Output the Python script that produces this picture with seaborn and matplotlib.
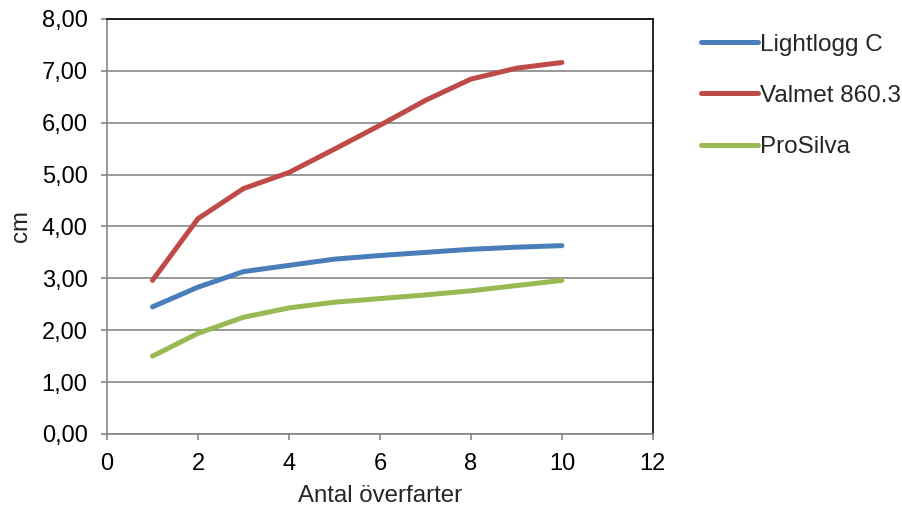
import pandas as pd
import matplotlib
matplotlib.use("Agg")
import matplotlib.pyplot as plt
import seaborn as sns
from matplotlib.ticker import FuncFormatter

# values
overfarter = [1, 2, 3, 4, 5, 6, 7, 8, 9, 10]
lightlogg = [2.45, 2.83, 3.13, 3.25, 3.37, 3.44, 3.50, 3.56, 3.60, 3.63]
valmet = [2.96, 4.15, 4.73, 5.04, 5.49, 5.95, 6.43, 6.84, 7.05, 7.16]
prosilva = [1.50, 1.94, 2.25, 2.43, 2.54, 2.61, 2.68, 2.76, 2.86, 2.96]
series_names = ["Lightlogg C", "Valmet 860.3", "ProSilva"]
colors = ["#4A7EBB", "#BE4B48", "#98B954"]

df = pd.DataFrame({
    "x": overfarter * 3,
    "y": lightlogg + valmet + prosilva,
    "serie": [s for s in series_names for _ in overfarter],
})

sns.set_style("white")
plt.rcParams["font.family"] = ["Liberation Sans", "DejaVu Sans"]

fig = plt.figure(figsize=(9.03, 5.11), dpi=100)
ax = fig.add_axes([0.1185, 0.1507, 0.6045, 0.8123])

sns.lineplot(data=df, x="x", y="y", hue="serie", palette=colors,
             hue_order=series_names, linewidth=3.6, ax=ax,
             solid_capstyle="round", solid_joinstyle="round")

ax.set_xlim(0, 12)
ax.set_ylim(0, 8)
ax.set_xticks(range(0, 13, 2))
ax.set_yticks(range(0, 9))
ax.yaxis.set_major_formatter(FuncFormatter(lambda v, p: f"{v:.2f}".replace(".", ",")))
ax.grid(axis="y", color="#868686", linewidth=1.2)
ax.set_axisbelow(True)

for side in ["left", "bottom"]:
    ax.spines[side].set_color("#868686")
    ax.spines[side].set_linewidth(1.2)
for side in ["top", "right"]:
    ax.spines[side].set_color("#000000")
    ax.spines[side].set_linewidth(1.2)

ax.tick_params(axis="both", direction="out", length=4, width=1.2,
               color="#868686", labelsize=17, labelcolor="#000000", pad=10)
ax.tick_params(left=True, bottom=True)

ax.set_xlabel("Antal överfarter", fontsize=17.3, labelpad=7)
ax.set_ylabel("cm", fontsize=17.3, labelpad=7)

handles, labels = ax.get_legend_handles_labels()
ax.legend(handles, labels, loc="upper left", bbox_to_anchor=(0.765, 0.953),
          bbox_transform=fig.transFigure, frameon=False, fontsize=17.5,
          handlelength=2.35, handletextpad=0.1, labelspacing=1.2, borderaxespad=0)

fig.savefig("out.png", dpi=100)
